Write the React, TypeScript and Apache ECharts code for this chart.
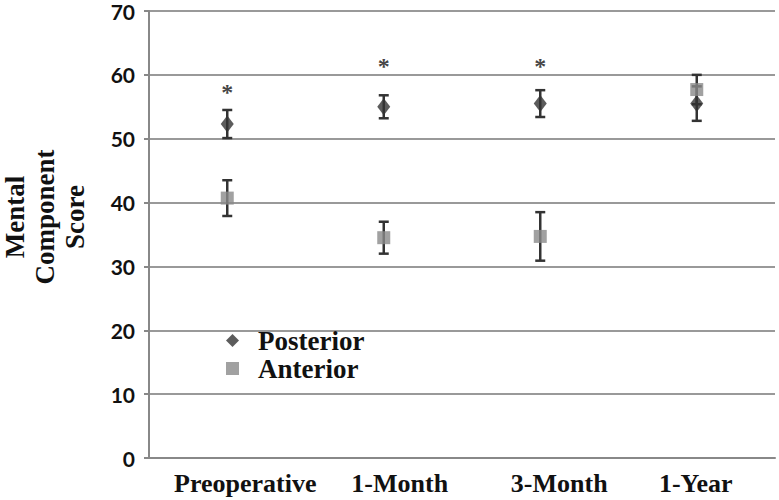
import React, { useEffect, useRef } from "react";
import * as echarts from "echarts";

const categories = ["Preoperative", "1-Month", "3-Month", "1-Year"];
const posteriorMean = [52.3, 55.0, 55.5, 55.5];
const posteriorErr = [2.2, 1.8, 2.1, 2.7];
const anteriorMean = [40.7, 34.5, 34.7, 57.7];
const anteriorErr = [2.8, 2.5, 3.8, 2.3];
const asteriskY = [58.1, 62.2, 62.2, null];
const yTicks = { min: 0, max: 70, interval: 10 };
const yTitle = "Mental\nComponent\nScore";

// horizontal label shifts (px) seen in the reference
const labelShift = [18, 16, 19, -1];

const serif = "'Liberation Serif', 'DejaVu Serif', serif";
const sans = "Lato, 'Open Sans', sans-serif";

function errorSeries(name: string, means: number[], errs: number[], z: number) {
  return {
    type: "custom",
    name: name + "-err",
    z,
    silent: true,
    data: means.map((m, i) => [i, m - errs[i], m + errs[i]]),
    renderItem: (params: any, api: any) => {
      const lo = api.coord([api.value(0), api.value(1)]);
      const hi = api.coord([api.value(0), api.value(2)]);
      const w = 5;
      const style = { stroke: "#333", lineWidth: 2.5 };
      return {
        type: "group",
        children: [
          { type: "line", shape: { x1: lo[0], y1: lo[1], x2: hi[0], y2: hi[1] }, style },
          { type: "line", shape: { x1: lo[0] - w, y1: lo[1], x2: lo[0] + w, y2: lo[1] }, style },
          { type: "line", shape: { x1: hi[0] - w, y1: hi[1], x2: hi[0] + w, y2: hi[1] }, style },
        ],
      };
    },
  };
}

export default function App() {
  const ref = useRef<HTMLDivElement>(null);
  useEffect(() => {
    const chart = echarts.init(ref.current!, null, { renderer: "svg" });
    chart.setOption({
      animation: false,
      backgroundColor: "#fff",
      grid: {
        left: 149,
        right: 4,
        top: 11,
        bottom: 42,
        containLabel: false,
        outerBoundsMode: "none",
      },
      graphic: [
        {
          type: "text",
          x: 45,
          y: 217,
          rotation: Math.PI / 2,
          style: {
            text: yTitle,
            align: "center",
            verticalAlign: "middle",
            fontFamily: serif,
            fontWeight: "bold",
            fontSize: 27,
            lineHeight: 30,
            fill: "#111",
          },
        },
      ],
      legend: {
        orient: "vertical",
        left: 221,
        top: 322,
        itemWidth: 13,
        itemHeight: 13,
        itemGap: 1,
        data: ["Posterior", "Anterior"],
        textStyle: {
          fontFamily: serif,
          fontWeight: "bold",
          fontSize: 27,
          lineHeight: 25,
          color: "#111",
          padding: [0, 0, 0, 14],
        },
      },
      xAxis: {
        type: "category",
        data: categories.map((c, i) => ({
          value: c,
          textStyle: {
            padding:
              labelShift[i] >= 0
                ? [0, 0, 0, 2 * labelShift[i]]
                : [0, -2 * labelShift[i], 0, 0],
          },
        })),
        axisLine: { lineStyle: { color: "#888", width: 2 } },
        axisTick: { show: false },
        axisLabel: {
          interval: 0,
          fontFamily: serif,
          fontWeight: "bold",
          fontSize: 26,
          color: "#111",
          margin: 12,
        },
      },
      yAxis: {
        type: "value",
        min: yTicks.min,
        max: yTicks.max,
        interval: yTicks.interval,
        axisLine: { show: true, lineStyle: { color: "#888", width: 2 } },
        axisTick: { show: true, length: 5, lineStyle: { color: "#888", width: 2 } },
        splitLine: { lineStyle: { color: "#999", width: 2 } },
        axisLabel: {
          fontFamily: sans,
          fontWeight: "bold",
          fontSize: 21,
          color: "#111",
          margin: 14,
        },
      },
      series: [
        errorSeries("Posterior", posteriorMean, posteriorErr, 2),
        {
          type: "scatter",
          name: "Posterior",
          symbol: "diamond",
          symbolSize: [13, 17],
          z: 3,
          itemStyle: { color: "#333" },
          data: posteriorMean,
        },
        errorSeries("Anterior", anteriorMean, anteriorErr, 4),
        {
          type: "scatter",
          name: "Anterior",
          symbol: "rect",
          symbolSize: 13,
          z: 5,
          itemStyle: { color: "#8a8a8a" },
          data: anteriorMean,
        },
        {
          type: "scatter",
          name: "asterisk",
          symbolSize: 0,
          z: 6,
          silent: true,
          data: asteriskY,
          label: {
            show: true,
            position: "inside",
            formatter: "*",
            fontFamily: serif,
            fontWeight: "bold",
            fontSize: 24,
            color: "#111",
            offset: [0, 5],
          },
        },
      ],
    });
    return () => chart.dispose();
  }, []);
  return <div ref={ref} style={{ width: 779, height: 500, position: "absolute", left: 0, top: 0 }} />;
}
